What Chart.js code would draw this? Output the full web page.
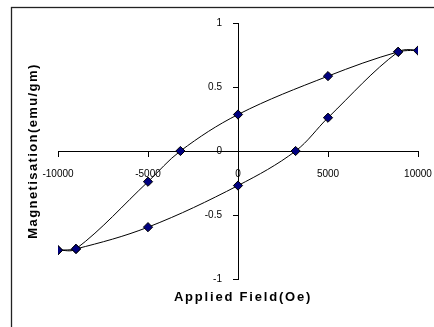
<!DOCTYPE html>
<html>
<head>
<meta charset="utf-8">
<script src="https://cdn.jsdelivr.net/npm/chart.js@4/dist/chart.umd.min.js"></script>
<style>
  html, body { margin: 0; padding: 0; background: #ffffff; }
  #wrap { width: 434px; height: 327px; }
</style>
</head>
<body>
<div id="wrap"><canvas id="loop" width="434" height="327"></canvas></div>
<script>
// Hysteresis loop: applied field (Oe) against magnetisation (emu/gm)
const fieldOe = [-10000, -9000, -5000, 0, 3200, 5000, 8900, 10000,
                 8900, 5000, 0, -3200, -5000, -9000, -10000];
const magnetisation = [-0.775, -0.765, -0.595, -0.27, 0, 0.26, 0.775, 0.785,
                       0.775, 0.585, 0.285, 0, -0.24, -0.765, -0.775];

const xTickValues = [-10000, -5000, 0, 5000, 10000];
const yTickValues = [-1, -0.5, 0, 0.5, 1];

const xTitle = 'Applied Field(Oe)';
const yTitle = 'Magnetisation(emu/gm)';

const points = fieldOe.map((x, i) => ({ x: x, y: magnetisation[i] }));

const tickFont = { family: '"Liberation Sans", Arial, sans-serif', size: 10 };

// Frame around the plot and the two bold axis titles
const decorations = {
  id: 'decorations',
  afterDraw(chart) {
    const ctx = chart.ctx;
    ctx.save();
    ctx.strokeStyle = '#222222';
    ctx.lineWidth = 1.3;
    ctx.strokeRect(11.5, 7.5, 440, 340);

    ctx.fillStyle = '#000000';
    ctx.font = 'bold 13px "Liberation Sans", Arial, sans-serif';
    ctx.letterSpacing = '1.8px';
    ctx.textAlign = 'center';
    ctx.textBaseline = 'middle';
    ctx.fillText(xTitle, 243, 297);

    ctx.letterSpacing = '1.4px';
    ctx.translate(33, 151);
    ctx.rotate(-Math.PI / 2);
    ctx.fillText(yTitle, 0, 0);
    ctx.restore();
  }
};

// the crossing axes should not push the plot area inwards
function noEdgePadding(scale) {
  scale.paddingLeft = 0;
  scale.paddingRight = 0;
  scale.paddingTop = 0;
  scale.paddingBottom = 0;
}

new Chart(document.getElementById('loop'), {
  type: 'scatter',
  data: {
    datasets: [{
      data: points,
      showLine: true,
      tension: 0.35,
      borderColor: '#000000',
      borderWidth: 1,
      pointStyle: 'rectRot',
      pointRadius: 4.6,
      pointHoverRadius: 4.6,
      pointBackgroundColor: '#000080',
      pointBorderColor: '#000000',
      pointBorderWidth: 1
    }]
  },
  options: {
    responsive: false,
    animation: false,
    layout: { padding: { left: 58, right: 16, top: 23, bottom: 48 } },
    plugins: {
      legend: { display: false },
      tooltip: { enabled: false }
    },
    scales: {
      x: {
        type: 'linear',
        position: { y: 0 },
        min: -10000,
        max: 10000,
        afterBuildTicks(scale) { scale.ticks = xTickValues.map(v => ({ value: v })); },
        afterFit: noEdgePadding,
        ticks: {
          color: '#000000',
          font: tickFont,
          padding: 12,
          maxRotation: 0,
          autoSkip: false,
          callback: v => String(v)
        },
        grid: { display: true, drawOnChartArea: false, drawTicks: true, tickLength: 5, color: '#000000', lineWidth: 1 },
        border: { display: true, color: '#000000', width: 1 }
      },
      y: {
        type: 'linear',
        // the field range is symmetric, so the centre of the plot is field 0
        position: 'center',
        min: -1,
        max: 1,
        afterBuildTicks(scale) { scale.ticks = yTickValues.map(v => ({ value: v })); },
        afterFit: noEdgePadding,
        ticks: {
          color: '#000000',
          font: tickFont,
          padding: 11,
          autoSkip: false,
          callback: v => String(v)
        },
        grid: { display: true, drawOnChartArea: false, drawTicks: true, tickLength: 5, color: '#000000', lineWidth: 1 },
        border: { display: true, color: '#000000', width: 1 }
      }
    }
  },
  plugins: [decorations]
});
</script>
</body>
</html>
